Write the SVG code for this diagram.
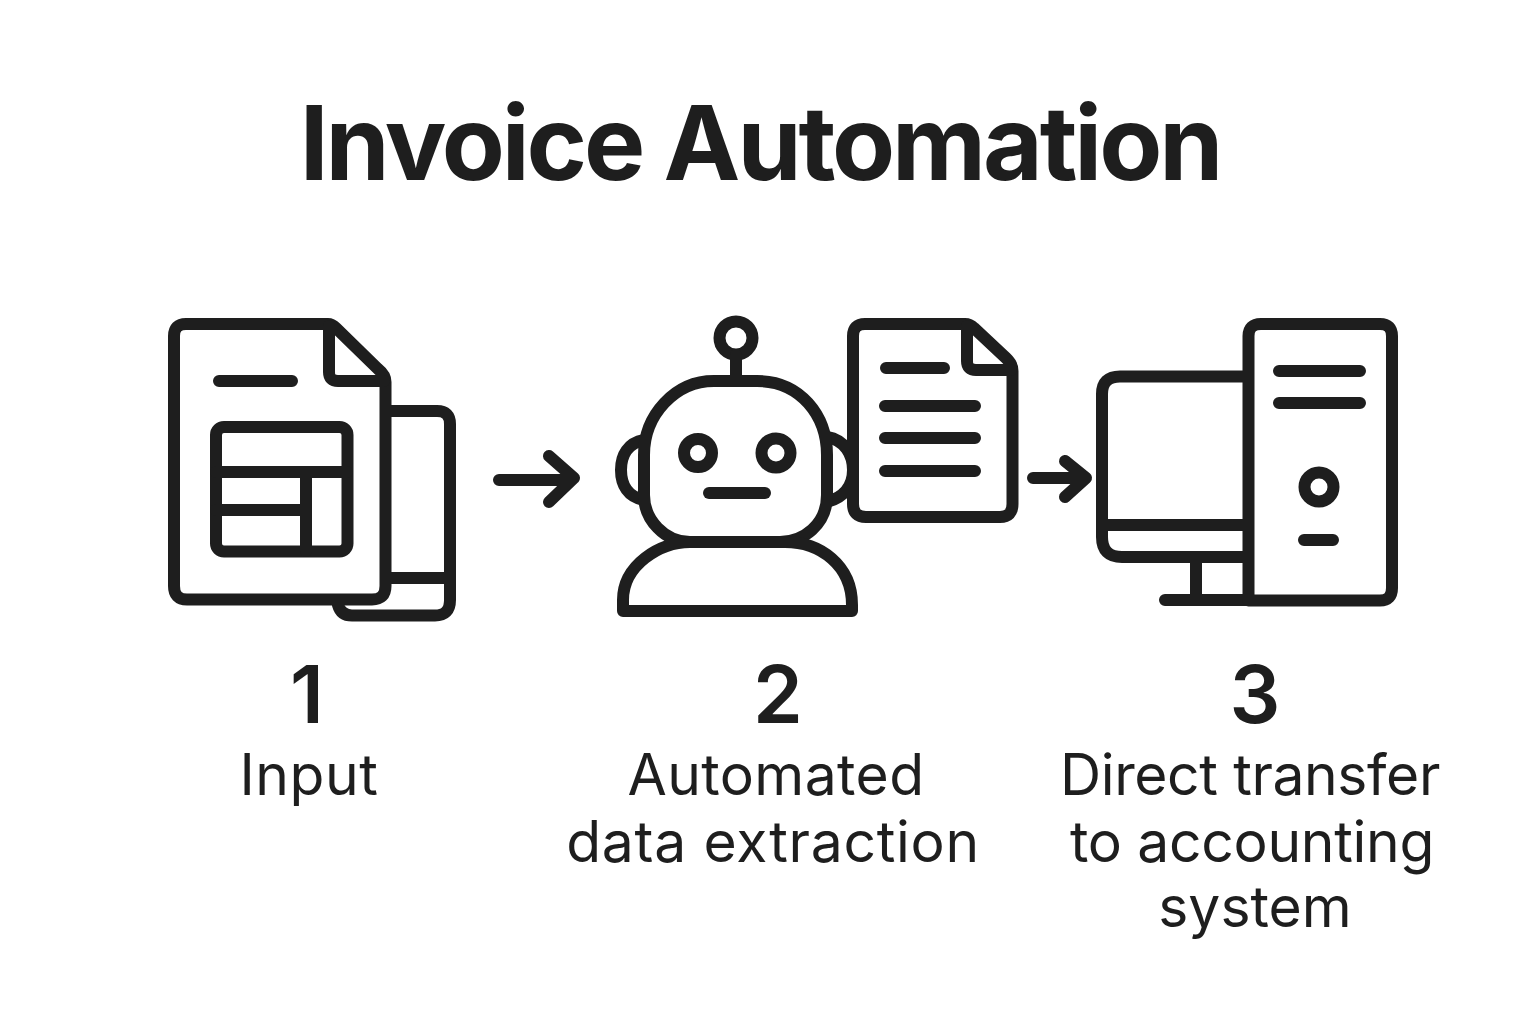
<svg xmlns="http://www.w3.org/2000/svg" width="1536" height="1024" viewBox="0 0 1536 1024">
<style>
text{fill:#1e1e1e;font-family:Inter,"Liberation Sans",sans-serif;text-anchor:middle}
.t{font-size:103px;font-weight:700;letter-spacing:-3.1px}
.n{font-size:80px;font-weight:600}
.l{font-size:57px;font-weight:400}
.i path,.i circle,.i rect,.i line{fill:none;stroke:#1e1e1e;stroke-width:12;stroke-linecap:round;stroke-linejoin:round}
.i .w{fill:#fff}
</style>
<rect width="1536" height="1024" fill="#fff"/>
<text class="t" x="760" y="180">Invoice Automation</text>
<g id="node-input" class="i">
<path d="M338 605C340 612 345 615.500 352 615.500H435Q450 615.500 450 600V424Q450 411 437 411H385M385 578H450"/>
<path class="w" d="M186 324H328Q332 324 336 328L378 369Q385.500 375 385.500 382V586Q385.500 599.500 372 599.500H187Q174 599.500 174 586V336Q174 324 186 324Z"/>
<path d="M329 326V372Q329 381 338 381H384M219 381H292"/>
<rect x="216" y="427" width="131.500" height="124.500" rx="8"/>
<path d="M216 472H347M216 510H306M306 472V551"/>
<text class="n" x="307" y="723">1</text>
<text class="l" x="309" y="795" style="letter-spacing:.6px">Input</text>
</g>
<g id="node-extract" class="i">
<circle cx="736" cy="338" r="16.500"/>
<path d="M736 355V380"/>
<path d="M644 440C628 443 621 455 621 470C621 485 628 497 644 500M827 437C845 440 853 455 853 470C853 485 845 497 827 502"/>
<path class="w" d="M714 381H757C800 381 827 415 827 455V495C827 525 803 542 780 542H690C665 542 644 520 644 495V455C644 415 675 381 714 381Z"/>
<path d="M623 611V600C623 565 660 542 690 542H785C820 542 852 565 852 605V611Z"/>
<circle cx="698" cy="453" r="14"/>
<circle cx="776" cy="453" r="14.500"/>
<path d="M709 493H765"/>
<path class="w" d="M865 324H965Q970 324 974 328L1006 358Q1012.500 364 1012.500 371V504Q1012.500 517 1000 517H866Q853 517 853 504V336Q853 324 865 324Z"/>
<path d="M967 326V361Q967 370 976 370H1011M886 368H944M885 406H975M885 438H975M885 471H975"/>
<text class="n" x="778" y="723">2</text>
<text class="l" x="776" y="795" style="letter-spacing:.4px">Automated</text>
<text class="l" x="773" y="862" style="letter-spacing:.7px">data extraction</text>
</g>
<g id="node-system" class="i">
<path d="M1248 376.500H1120Q1102 376.500 1102 394V537Q1102 557 1122 557H1248M1102 525H1248M1196 557V600M1165 600H1260"/>
<path class="w" d="M1261 324H1380Q1392 324 1392 336V588Q1392 600.500 1380 600.500H1248.500V336Q1248.500 324 1261 324Z"/>
<path d="M1279 371H1360M1279 403H1360M1304 540H1333"/>
<circle cx="1319" cy="487" r="14.500"/>
<text class="n" x="1255" y="723">3</text>
<text class="l" x="1250" y="795" style="letter-spacing:-.4px">Direct transfer</text>
<text class="l" x="1252" y="862" style="letter-spacing:-.3px">to accounting</text>
<text class="l" x="1255" y="927">system</text>
</g>
<g id="connectors" class="i">
<path d="M499 480H570M549 456L574 478L549 502"/>
<path d="M1033 478H1082M1065 461L1086 478L1065 497"/>
</g>
</svg>
